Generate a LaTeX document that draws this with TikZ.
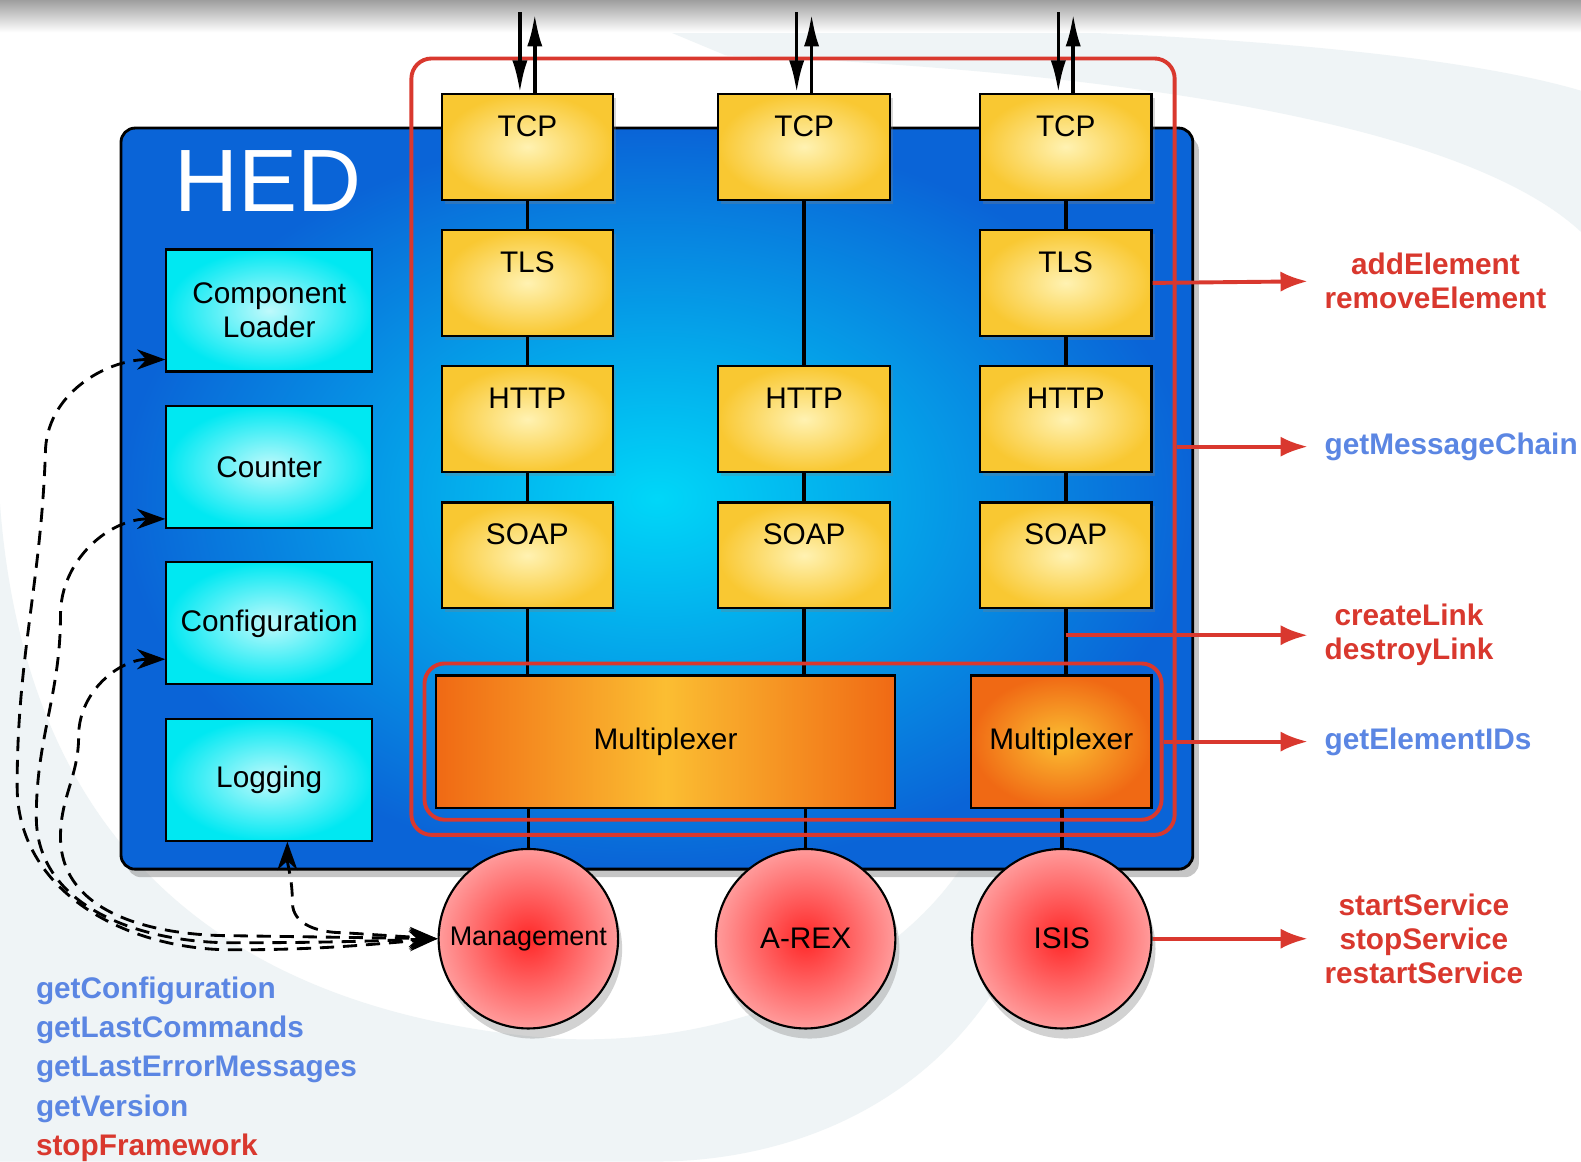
\documentclass[tikz,border=0pt]{standalone}
\usepackage{fontspec}
\setmainfont{Liberation Sans}
\usetikzlibrary{positioning,shadows,arrows.meta}

\definecolor{hedblue}{RGB}{10,100,215}
\definecolor{hedcyan}{RGB}{0,215,248}
\definecolor{boxcyan}{RGB}{0,232,242}
\definecolor{boxyellow}{RGB}{249,200,50}
\definecolor{lightyellow}{RGB}{255,242,178}
\definecolor{muxorange}{RGB}{240,105,20}
\definecolor{muxyellow}{RGB}{251,190,50}
\definecolor{svcred}{RGB}{255,40,40}
\definecolor{svcpink}{RGB}{255,155,155}
\definecolor{arcred}{RGB}{217,56,46}
\definecolor{opblue}{RGB}{91,134,227}
\definecolor{paleswoosh}{RGB}{239,244,246}

\tikzset{
  hedbox/.style   = {shape=rectangle, rounded corners=4pt, draw=black, line width=0.8pt,
                     inner color=hedcyan, outer color=hedblue,
                     drop shadow={shadow xshift=0.06cm, shadow yshift=-0.08cm, opacity=0.45}},
  corebox/.style  = {shape=rectangle, draw, line width=0.6pt, align=center,
                     minimum width=2.04cm, minimum height=1.21cm,
                     inner color=white!75!boxcyan, outer color=boxcyan,
                     font=\fontsize{8.4}{9.6}\selectfont},
  protobox/.style = {shape=rectangle, draw, line width=0.6pt, inner sep=0pt,
                     minimum width=1.70cm, text height=0.42cm, text depth=0.63cm,
                     inner color=lightyellow, outer color=boxyellow,
                     font=\fontsize{8.4}{10}\selectfont,
                     drop shadow={shadow xshift=0.03cm, shadow yshift=-0.04cm, opacity=0.3}},
  muxbox/.style   = {shape=rectangle, draw, line width=0.6pt, minimum height=1.31cm,
                     font=\fontsize{8.4}{10}\selectfont},
  svcnode/.style  = {shape=circle, draw, line width=0.6pt, minimum size=1.78cm, inner sep=0pt,
                     inner color=svcred, outer color=svcpink,
                     font=\fontsize{8.4}{10}\selectfont,
                     drop shadow={shadow xshift=0.04cm, shadow yshift=-0.1cm, opacity=0.35}},
  redframe/.style = {shape=rectangle, draw=arcred, line width=1.1pt, rounded corners=0.2cm},
  wire/.style     = {draw, line width=1pt},
  netarrow/.style = {wire, -{Latex[length=0.32cm,width=0.15cm]}},
  redarrow/.style = {draw=arcred, line width=1.1pt, -{Latex[length=0.27cm,width=0.2cm]}},
  flow/.style     = {draw, dash pattern=on 4pt off 2.5pt, line width=0.8pt,
                     {Stealth[length=0.28cm,width=0.2cm]}-{Stealth[length=0.28cm,width=0.2cm]}},
  opname/.style   = {font=\bfseries\fontsize{8.4}{9.6}\selectfont, align=center,
                     inner sep=0.16cm, anchor=west}
}

\begin{document}
\begin{tikzpicture}
\useasboundingbox (0,0) rectangle (15.68,-11.52);

% backdrop
\fill[white] (0,0) rectangle (15.68,-11.52);
\fill[paleswoosh] (6.6,-0.3) .. controls (10,-0.2) and (14,-0.4) .. (15.68,-0.9)
  -- (15.68,-2.3) .. controls (14.5,-1.2) and (11,-0.7) .. (7.2,-0.55) -- cycle;
\fill[paleswoosh] (0,-5.0) .. controls (0.3,-9.0) and (3,-10.1) .. (5.5,-10.3)
  .. controls (7.5,-10.4) and (9.0,-9.5) .. (9.6,-8.5) -- (10.4,-8.6)
  .. controls (9.8,-10.8) and (8,-11.52) .. (6.5,-11.52) -- (0,-11.52) -- cycle;
\shade[top color=black!38, bottom color=white] (0,0) rectangle (15.68,-0.32);

% HED container
\node[hedbox, minimum width=10.63cm, minimum height=7.35cm] (hed) at (6.515,-4.945) {};
\node[text=white, font=\fontsize{25}{25}\selectfont] (hedname) at (2.66,-1.80) {HED};

% core components
\node[corebox] (loader) at (2.67,-3.08) {Component\\Loader};
\node[corebox, below=0.32cm of loader] (counter) {Counter};
\node[corebox, below=0.32cm of counter] (config) {Configuration};
\node[corebox, below=0.32cm of config] (logging) {Logging};

% message chains
\node[protobox] (tcp1) at (5.23,-1.455) {TCP};
\node[protobox, below=0.28cm of tcp1] (tls1) {TLS};
\node[protobox, below=0.28cm of tls1] (http1) {HTTP};
\node[protobox, below=0.28cm of http1] (soap1) {SOAP};

\node[protobox] (tcp2) at (7.975,-1.455) {TCP};
\node[protobox] (http2) at (tcp2 |- http1) {HTTP};
\node[protobox] (soap2) at (tcp2 |- soap1) {SOAP};

\node[protobox] (tcp3) at (10.57,-1.455) {TCP};
\node[protobox, below=0.28cm of tcp3] (tls3) {TLS};
\node[protobox, below=0.28cm of tls3] (http3) {HTTP};
\node[protobox, below=0.28cm of http3] (soap3) {SOAP};

\node[muxbox, minimum width=4.56cm, left color=muxorange, right color=muxorange,
      middle color=muxyellow] (muxA) at (6.60,-7.355) {Multiplexer};
\node[muxbox, minimum width=1.79cm, inner color=muxyellow, outer color=muxorange]
      (muxB) at (10.525,-7.355) {Multiplexer};

% services
\node[svcnode, font=\fontsize{7.6}{9}\selectfont] (mgmt) at (5.24,-9.31) {Management};
\node[svcnode] (arex) at (7.99,-9.31) {A-REX};
\node[svcnode] (isis) at (10.53,-9.31) {ISIS};

% links
\foreach \a/\b in {tcp1/tls1, tls1/http1, http1/soap1, tcp2/http2, http2/soap2,
                   tcp3/tls3, tls3/http3, http3/soap3}
  \draw[wire] (\a) -- (\b);
\draw[wire] (soap1) -- (soap1 |- muxA.north);
\draw[wire] (soap2) -- (soap2 |- muxA.north);
\draw[wire] (soap3) -- (soap3 |- muxB.north);
\draw[wire] (mgmt |- muxA.south) -- (mgmt);
\draw[wire] (arex |- muxA.south) -- (arex);
\draw[wire] (isis |- muxB.south) -- (isis);

% red frames
\node[redframe, minimum width=7.57cm, minimum height=7.70cm] (chain) at (7.865,-4.43) {};
\node[redframe, minimum width=7.31cm, minimum height=1.55cm] (muxframe) at (7.865,-7.355) {};

% network in/out
\foreach \c in {1,2,3}{
  \coordinate (net\c) at ([yshift=0.8cm]tcp\c.north);
  \draw[netarrow] ([xshift=-2.1pt]net\c) -- ([xshift=-2.1pt]tcp\c.north);
  \draw[netarrow] ([xshift=2.1pt]tcp\c.north) -- ([xshift=2.1pt, yshift=-0.02cm]net\c);
}

% operations
\node[opname, text=arcred] (elements) at (12.97,-2.79) {addElement\\removeElement};
\node[opname, text=opblue] (chainop) at (12.97,-4.43) {getMessageChain};
\node[opname, text=arcred] (links) at (12.97,-6.30) {createLink\\destroyLink};
\node[opname, text=opblue] (ids) at (12.97,-7.355) {getElementIDs};
\node[opname, text=arcred] (services) at (12.97,-9.31) {startService\\stopService\\restartService};
\node[opname, text=opblue, anchor=north west, inner sep=0pt, align=left,
      font=\bfseries\fontsize{8.4}{11.1}\selectfont] (mgmtops) at (0.35,-9.68)
  {getConfiguration\\getLastCommands\\getLastErrorMessages\\getVersion\\
   \textcolor{arcred}{stopFramework}};

\draw[redarrow] (tls3.east) -- (elements.west);
\draw[redarrow] (chain.east) -- (chainop.west);
\draw[redarrow] (soap3.south |- links.west) -- (links.west);
\draw[redarrow] (muxframe.east) -- (ids.west);
\draw[redarrow] (isis.east) -- (services.west);

% management calls
\draw[flow] ([yshift=0.13cm]loader.south west) to[out=180,in=90] (0.45,-4.5)
  to[out=-92,in=90] (0.17,-7.8) to[out=-90,in=180] (2.3,-9.42) to[out=0,in=185] (mgmt.west);
\draw[flow] ([yshift=0.1cm]counter.south west) to[out=180,in=90] (0.6,-6.1)
  to[out=-90,in=90] (0.36,-8.1) to[out=-90,in=180] (2.3,-9.35) to[out=0,in=182] (mgmt.west);
\draw[flow] ([yshift=0.26cm]config.south west) to[out=180,in=90] (0.78,-7.3)
  to[out=-90,in=90] (0.6,-8.3) to[out=-90,in=180] (2.3,-9.28) -- (mgmt.west);
\draw[flow] ([xshift=0.18cm]logging.south) to[out=-90,in=90] (2.9,-8.95)
  to[out=-90,in=180] (3.4,-9.25) -- (mgmt.west);
\end{tikzpicture}
\end{document}
